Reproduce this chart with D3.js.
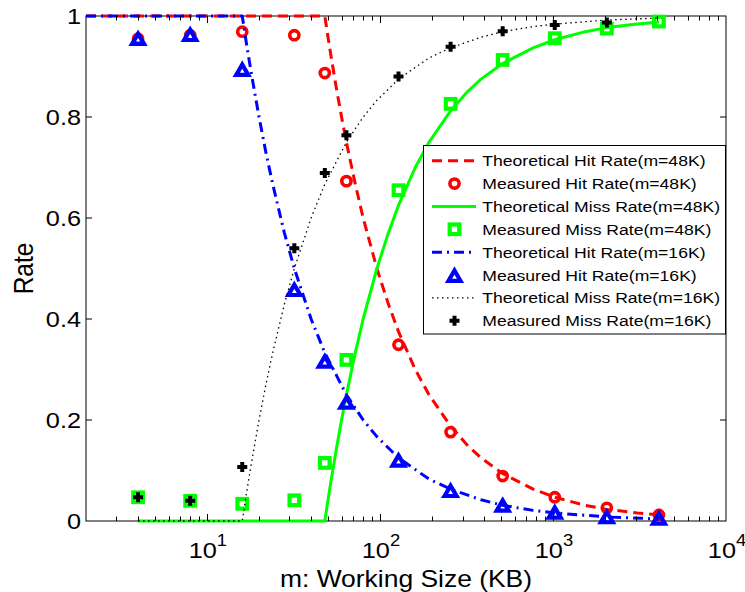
<!DOCTYPE html>
<html><head><meta charset="utf-8">
<script src="https://cdn.jsdelivr.net/npm/d3@7"></script>
<style>
body{margin:0;background:#fff}
svg{display:block;font-family:"Liberation Sans",Arial,Helvetica,sans-serif}
</style>
</head><body>
<svg id="chart" width="745" height="592"></svg>
<script>
// ---------- data ----------
const measuredSizes = [4, 8, 16, 32, 48, 64, 128, 256, 512, 1024, 2048, 4096];
const measuredHit48 = [0.955, 0.962, 0.969, 0.962, 0.887, 0.673, 0.349, 0.176, 0.089, 0.047, 0.026, 0.012];
const measuredMiss48 = [0.047, 0.040, 0.034, 0.041, 0.115, 0.319, 0.655, 0.826, 0.913, 0.956, 0.975, 0.989];
const measuredHit16 = [0.956, 0.964, 0.895, 0.459, 0.317, 0.236, 0.121, 0.061, 0.032, 0.018, 0.009, 0.006];
const measuredMissSizes16 = [4, 8, 16, 32, 48, 64, 128, 256, 512, 1024, 2048];
const measuredMiss16 = [0.047, 0.040, 0.107, 0.540, 0.689, 0.764, 0.880, 0.939, 0.970, 0.982, 0.987];

const theoHitX48 = [2, 4, 8, 16, 32, 48, 50, 52, 56, 60, 64, 72, 80, 96, 112, 128, 160, 192, 256, 320, 384, 512, 768, 1024, 1536, 2048, 3072, 4096];
const theoHit48 = [1, 1, 1, 1, 1, 1, 0.96, 0.923, 0.857, 0.8, 0.75, 0.667, 0.6, 0.5, 0.429, 0.375, 0.3, 0.25, 0.188, 0.15, 0.125, 0.094, 0.063, 0.047, 0.031, 0.023, 0.016, 0.012];
const theoMissX48 = [4, 8, 16, 32, 48, 50, 52, 56, 60, 64, 72, 80, 96, 112, 128, 160, 192, 256, 320, 384, 512, 768, 1024, 1536, 2048, 3072, 4096];
const theoMiss48 = [0, 0, 0, 0, 0, 0.04, 0.077, 0.143, 0.2, 0.25, 0.333, 0.4, 0.5, 0.571, 0.625, 0.7, 0.75, 0.812, 0.85, 0.875, 0.906, 0.937, 0.953, 0.969, 0.977, 0.984, 0.988];

const theoHitX16 = [2, 4, 8, 16, 17, 18, 20, 22, 24, 28, 32, 40, 48, 64, 80, 96, 128, 192, 256, 384, 512, 768, 1024, 2048, 4096];
const theoHit16 = [1, 1, 1, 1, 0.941, 0.889, 0.8, 0.727, 0.667, 0.571, 0.5, 0.4, 0.333, 0.25, 0.2, 0.167, 0.125, 0.083, 0.063, 0.042, 0.031, 0.021, 0.016, 0.008, 0.004];
const theoMissX16 = [4, 8, 16, 17, 18, 20, 22, 24, 28, 32, 40, 48, 64, 80, 96, 128, 192, 256, 384, 512, 768, 1024, 2048, 4096];
const theoMiss16 = [0, 0, 0, 0.059, 0.111, 0.2, 0.273, 0.333, 0.429, 0.5, 0.6, 0.667, 0.75, 0.8, 0.833, 0.875, 0.917, 0.937, 0.958, 0.969, 0.979, 0.984, 0.992, 0.996];

const yTicks = [0, 0.2, 0.4, 0.6, 0.8, 1];
const yTickLabels = ["0", "0.2", "0.4", "0.6", "0.8", "1"];
const xMajorTicks = [10, 100, 1000, 10000];
const xMajorExponents = ["1", "2", "3", "4"];

const legendLabels = [
  "Theoretical Hit Rate(m=48K)",
  "Measured Hit Rate(m=48K)",
  "Theoretical Miss Rate(m=48K)",
  "Measured Miss Rate(m=48K)",
  "Theoretical Hit Rate(m=16K)",
  "Measured Hit Rate(m=16K)",
  "Theoretical Miss Rate(m=16K)",
  "Measured Miss Rate(m=16K)"
];

// ---------- layout ----------
const SX = 1.15; // horizontal stretch of text seen in the reference
const L = 86, R = 726, T = 16, B = 521;
const svg = d3.select("#chart");
const x = d3.scaleLog().domain([2, 10000]).range([L, R]);
const y = d3.scaleLinear().domain([0, 1]).range([B, T]);

const RED = "#ff0000", GREEN = "#00ff00", BLUE = "#0000ff", BLACK = "#000000";

// frame
svg.append("rect").attr("x", L).attr("y", T).attr("width", R - L).attr("height", B - T)
  .attr("fill", "none").attr("stroke", "#000").attr("stroke-width", 1);

const lineGen = d3.line().x(d => x(d[0])).y(d => y(d[1]));
const dataG = svg.append("g");

function drawLine(xs, ys, color, width, dash) {
  dataG.append("path").datum(xs.map((v, i) => [v, ys[i]]))
    .attr("d", lineGen).attr("fill", "none").attr("stroke", color)
    .attr("stroke-width", width).attr("stroke-dasharray", dash || null)
    .attr("stroke-linejoin", "round");
}
function marker(g, type, cx, cy) {
  if (type === "circle") {
    g.append("circle").attr("cx", cx).attr("cy", cy).attr("r", 4.6)
      .attr("fill", "none").attr("stroke", RED).attr("stroke-width", 3.6);
  } else if (type === "square") {
    g.append("rect").attr("x", cx - 4.8).attr("y", cy - 4.8).attr("width", 9.6).attr("height", 9.6)
      .attr("fill", "none").attr("stroke", GREEN).attr("stroke-width", 4.2);
  } else if (type === "triangle") {
    g.append("path").attr("d", `M${cx},${cy - 4.5}L${cx + 6},${cy + 5.8}L${cx - 6},${cy + 5.8}Z`)
      .attr("fill", "none").attr("stroke", BLUE).attr("stroke-width", 4.2).attr("stroke-linejoin", "miter");
  } else if (type === "plus") {
    g.append("path").attr("d", `M${cx - 3},${cy}H${cx + 3}M${cx},${cy - 3}V${cy + 3}`)
      .attr("fill", "none").attr("stroke", BLACK).attr("stroke-width", 4).attr("stroke-linecap", "square");
  }
}
function drawMarkers(xs, ys, type) {
  xs.forEach((v, i) => marker(dataG, type, x(v), y(ys[i])));
}

const styles = [
  {color: RED, width: 3, dash: "10,6", marker: "circle"},
  {color: GREEN, width: 3, dash: null, marker: "square"},
  {color: BLUE, width: 3, dash: "10,5,2,5", marker: "triangle"},
  {color: BLACK, width: 1.3, dash: "1.5,3.5", marker: "plus"}
];

drawLine(theoHitX48, theoHit48, RED, 3, styles[0].dash);
drawMarkers(measuredSizes, measuredHit48, "circle");
drawLine(theoMissX48, theoMiss48, GREEN, 3, null);
drawMarkers(measuredSizes, measuredMiss48, "square");
drawLine(theoHitX16, theoHit16, BLUE, 3, styles[2].dash);
drawMarkers(measuredSizes, measuredHit16, "triangle");
drawLine(theoMissX16, theoMiss16, BLACK, 1.3, styles[3].dash);
drawMarkers(measuredMissSizes16, measuredMiss16, "plus");

// ---------- ticks ----------
const tickG = svg.append("g").attr("stroke", "#000").attr("stroke-width", 1);
x.ticks().forEach(t => {
  const lg = Math.log10(t);
  const major = Math.abs(lg - Math.round(lg)) < 1e-9;
  const len = major ? 7 : 4.5;
  const px = Math.round(x(t)) + 0.5;
  if (px <= L + 1 || px >= R - 1) return;
  tickG.append("line").attr("x1", px).attr("x2", px).attr("y1", B).attr("y2", B - len);
  tickG.append("line").attr("x1", px).attr("x2", px).attr("y1", T).attr("y2", T + len);
});
yTicks.forEach(t => {
  const py = y(t);
  if (t > 0 && t < 1) {
    tickG.append("line").attr("x1", L).attr("x2", L + 6).attr("y1", py).attr("y2", py);
    tickG.append("line").attr("x1", R).attr("x2", R - 6).attr("y1", py).attr("y2", py);
  }
});

// ---------- tick labels ----------
yTicks.forEach((t, i) => {
  svg.append("text").attr("transform", `translate(81,${y(t)}) scale(${SX},1)`)
    .attr("text-anchor", "end").attr("dy", "0.36em").attr("font-size", 22).attr("fill", "#000")
    .text(yTickLabels[i]);
});
xMajorTicks.forEach((t, i) => {
  const tx = svg.append("text").attr("transform", `translate(${x(t) + 1},558) scale(${SX},1)`)
    .attr("text-anchor", "middle").attr("font-size", 22).attr("fill", "#000");
  tx.append("tspan").text("10");
  tx.append("tspan").attr("font-size", 16).attr("dy", -12).text(xMajorExponents[i]);
});

// axis titles
svg.append("text").attr("transform", `translate(${(L + R) / 2},586.5) scale(${SX},1)`)
  .attr("text-anchor", "middle").attr("font-size", 23).attr("fill", "#000")
  .text("m: Working Size (KB)");
svg.append("text").attr("transform", `translate(33,${(T + B) / 2}) scale(${SX},1) rotate(-90)`)
  .attr("text-anchor", "middle").attr("font-size", 24.5).attr("fill", "#000")
  .text("Rate");

// ---------- legend ----------
const lg = svg.append("g");
lg.append("rect").attr("x", 423.5).attr("y", 145.5).attr("width", 302).attr("height", 188.5)
  .attr("fill", "#fff").attr("stroke", "#000").attr("stroke-width", 1);
legendLabels.forEach((lab, i) => {
  const cy = 160.7 + i * 22.86;
  const st = styles[Math.floor(i / 2)];
  if (i % 2 === 0) {
    lg.append("line").attr("x1", 432).attr("x2", 476).attr("y1", cy).attr("y2", cy)
      .attr("stroke", st.color).attr("stroke-width", st.width).attr("stroke-dasharray", st.dash);
  } else {
    marker(lg, st.marker, 454.5, cy);
  }
  lg.append("text").attr("transform", `translate(482.3,${cy}) scale(${SX},1)`)
    .attr("dy", "0.36em").attr("font-size", 15.3).attr("fill", "#000").text(lab);
});
</script>
</body></html>
